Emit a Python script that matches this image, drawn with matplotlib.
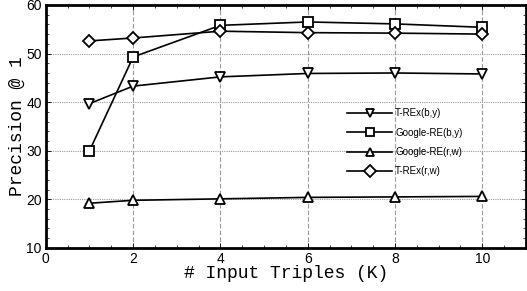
import matplotlib
matplotlib.use('Agg')
import matplotlib.pyplot as plt
from matplotlib.ticker import MultipleLocator

# data
triples = [1, 2, 4, 6, 8, 10]
trex_by = [39.7, 43.3, 45.2, 45.9, 46.0, 45.8]
google_by = [30.0, 49.3, 55.8, 56.5, 56.1, 55.4]
google_rw = [19.2, 19.8, 20.1, 20.4, 20.5, 20.6]
trex_rw = [52.6, 53.2, 54.6, 54.3, 54.2, 54.0]

series = [
    (trex_by, 'v', 'T-REx(b,y)'),
    (google_by, 's', 'Google-RE(b,y)'),
    (google_rw, '^', 'Google-RE(r,w)'),
    (trex_rw, 'D', 'T-REx(r,w)'),
]

fig = plt.figure(figsize=(5.27, 2.91), dpi=100)
ax = fig.add_axes([0.087, 0.148, 0.911, 0.835])

for vals, mk, lab in series:
    ms = 6 if mk == 'D' else 7
    ax.plot(triples, vals, color='black', lw=1.2, marker=mk, markersize=ms,
            markerfacecolor='white', markeredgecolor='black', markeredgewidth=1.3,
            label=lab, zorder=3)

ax.set_xlim(0, 11)
ax.set_ylim(10, 60)
ax.xaxis.set_major_locator(MultipleLocator(2))
ax.xaxis.set_minor_locator(MultipleLocator(0.5))
ax.yaxis.set_major_locator(MultipleLocator(10))
ax.yaxis.set_minor_locator(MultipleLocator(2))

# grid: dashed verticals, dotted horizontals
ax.grid(axis='x', which='major', color='#999999', linestyle=(0, (4, 2)), lw=0.8)
ax.grid(axis='y', which='major', color='#999999', linestyle=(0, (1, 1)), lw=0.8)

ax.tick_params(which='both', direction='in', top=True, right=True,
               labelsize=10, pad=3)
ax.tick_params(which='major', length=3.5, width=0.6)
ax.tick_params(which='minor', length=2, width=0.5)
for lbl in ax.get_xticklabels() + ax.get_yticklabels():
    lbl.set_family('Liberation Sans')

for sp in ax.spines.values():
    sp.set_linewidth(2)

ax.set_xlabel('# Input Triples (K)', family='Liberation Mono', fontsize=13, labelpad=-1)
ax.set_ylabel('Precision @ 1', family='Liberation Mono', fontsize=13, labelpad=0)

leg = ax.legend(loc='upper left', bbox_to_anchor=(0.62, 0.59), frameon=False,
                prop={'family': 'Liberation Sans', 'size': 7},
                handlelength=4.6, handletextpad=0.3, labelspacing=0.95,
                borderaxespad=0)
for h in leg.legend_handles:
    h.set_markersize(6)

plt.savefig('out.png', dpi=100)
